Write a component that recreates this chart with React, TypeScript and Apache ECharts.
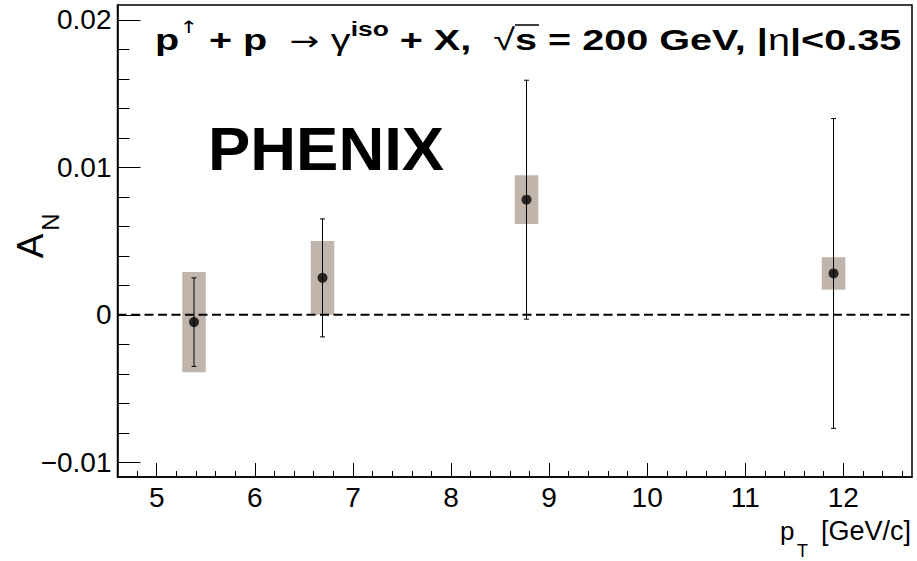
import React, { useEffect, useRef } from 'react';
import * as echarts from 'echarts';

// ---- data ----
const pT = [5.38, 6.69, 8.77, 11.9];
const AN = [-0.0005, 0.0025, 0.0078, 0.0028];
const statErr = [0.003, 0.004, 0.0081, 0.0105];
const systErr = [0.0034, 0.0025, 0.00165, 0.0011];

const xMin = 4.6;
const xMax = 12.7;
const yMin = -0.011;
const yMax = 0.021;

const xMajorTicks = [5, 6, 7, 8, 9, 10, 11, 12];
const xMinorTicks = [
  4.8, 5.2, 5.4, 5.6, 5.8, 6.2, 6.4, 6.6, 6.8, 7.2, 7.4, 7.6, 7.8, 8.2, 8.4, 8.6, 8.8,
  9.2, 9.4, 9.6, 9.8, 10.2, 10.4, 10.6, 10.8, 11.2, 11.4, 11.6, 11.8, 12.2, 12.4, 12.6,
];
const yMajorTicks = [-0.01, 0, 0.01, 0.02];
const yMinorTicks = [
  -0.008, -0.006, -0.004, -0.002, 0.002, 0.004, 0.006, 0.008, 0.012, 0.014, 0.016, 0.018,
];

const FONT = '"Liberation Sans", Arial, Helvetica, sans-serif';
const SYM = '"DejaVu Sans", "Liberation Sans", sans-serif';
const BOX_HALF = 0.12;
const BOX_COLOR = '#c1b5ab';

function fmtY(v: number): string {
  if (Math.abs(v) < 1e-9) return '0';
  const s = Math.abs(v).toFixed(2);
  return v < 0 ? '\u2212' + s : s;
}

export default function App() {
  const ref = useRef<HTMLDivElement>(null);

  useEffect(() => {
    if (!ref.current) return;
    const chart = echarts.init(ref.current, null, { renderer: 'svg' });

    const axisLineStyle = { color: '#000', width: 1.5 };
    const tickStyle = { color: '#000', width: 1 };

    const option: any = {
      animation: false,
      backgroundColor: '#fff',
      grid: {
        left: 117.5,
        top: 5,
        right: 5,
        bottom: 84,
        show: true,
        borderColor: '#000',
        borderWidth: 1.5,
        backgroundColor: 'transparent',
        containLabel: false,
        outerBoundsMode: 'none',
      },
      xAxis: [
        {
          type: 'value',
          min: xMin,
          max: xMax,
          position: 'bottom',
          axisLine: { show: true, onZero: false, lineStyle: axisLineStyle },
          axisTick: { show: true, inside: true, length: 14, customValues: xMajorTicks, lineStyle: tickStyle },
          axisLabel: {
            show: true,
            customValues: xMajorTicks,
            fontSize: 28,
            fontFamily: FONT,
            color: '#000',
            margin: 6,
            showMinLabel: true,
            showMaxLabel: true,
          },
          splitLine: { show: false },
        },
        {
          type: 'value',
          min: xMin,
          max: xMax,
          position: 'bottom',
          offset: 0,
          axisLine: { show: false, onZero: false },
          axisTick: { show: true, inside: true, length: 6, customValues: xMinorTicks, lineStyle: tickStyle },
          axisLabel: { show: false },
          splitLine: { show: false },
        },
      ],
      yAxis: [
        {
          type: 'value',
          min: yMin,
          max: yMax,
          position: 'left',
          axisLine: { show: true, onZero: false, lineStyle: axisLineStyle },
          axisTick: { show: true, inside: true, length: 23, customValues: yMajorTicks, lineStyle: tickStyle },
          axisLabel: {
            show: true,
            customValues: yMajorTicks,
            formatter: fmtY,
            fontSize: 28,
            fontFamily: FONT,
            color: '#000',
            margin: 6,
          },
          splitLine: { show: false },
        },
        {
          type: 'value',
          min: yMin,
          max: yMax,
          position: 'left',
          offset: 0,
          axisLine: { show: false, onZero: false },
          axisTick: { show: true, inside: true, length: 12, customValues: yMinorTicks, lineStyle: tickStyle },
          axisLabel: { show: false },
          splitLine: { show: false },
        },
      ],
      series: [
        {
          type: 'custom',
          name: 'syst',
          z: 1,
          xAxisIndex: 0,
          yAxisIndex: 0,
          data: pT.map((x, i) => [x, AN[i], systErr[i]]),
          encode: { x: 0, y: 1 },
          renderItem: (params: any, api: any) => {
            const x = api.value(0);
            const y = api.value(1);
            const s = api.value(2);
            const p1 = api.coord([x - BOX_HALF, y + s]);
            const p2 = api.coord([x + BOX_HALF, y - s]);
            return {
              type: 'rect',
              shape: { x: p1[0], y: p1[1], width: p2[0] - p1[0], height: p2[1] - p1[1] },
              style: { fill: BOX_COLOR },
            };
          },
        },
        {
          type: 'line',
          name: 'zero',
          z: 2,
          xAxisIndex: 0,
          yAxisIndex: 0,
          data: [
            [xMin, 0],
            [xMax, 0],
          ],
          symbol: 'none',
          lineStyle: { color: '#000', width: 2, type: [9, 4.5] },
          silent: true,
        },
        {
          type: 'custom',
          name: 'stat',
          z: 3,
          xAxisIndex: 0,
          yAxisIndex: 0,
          data: pT.map((x, i) => [x, AN[i], statErr[i]]),
          encode: { x: 0, y: 1 },
          renderItem: (params: any, api: any) => {
            const x = api.value(0);
            const y = api.value(1);
            const e = api.value(2);
            const top = api.coord([x, y + e]);
            const bot = api.coord([x, y - e]);
            const cap = 2.5;
            const st = { stroke: '#000', lineWidth: 1 };
            return {
              type: 'group',
              children: [
                { type: 'line', shape: { x1: top[0], y1: top[1], x2: bot[0], y2: bot[1] }, style: st },
                { type: 'line', shape: { x1: top[0] - cap, y1: top[1], x2: top[0] + cap, y2: top[1] }, style: st },
                { type: 'line', shape: { x1: bot[0] - cap, y1: bot[1], x2: bot[0] + cap, y2: bot[1] }, style: st },
              ],
            };
          },
        },
        {
          type: 'scatter',
          name: 'A_N',
          z: 4,
          xAxisIndex: 0,
          yAxisIndex: 0,
          data: pT.map((x, i) => [x, AN[i]]),
          symbol: 'circle',
          symbolSize: 10,
          itemStyle: { color: '#000' },
        },
      ],
      graphic: [
        {
          type: 'text',
          x: 155,
          y: 19,
          scaleX: 1.32,
          style: {
            text:
              '{b|p}{up|\u2191}{b| + p }{ar| \u2192 }{s|\u03b3}{bs|iso}{b| + X,  }{s|\u221a}{b|s = 200 GeV, |}{s|\u03b7}{b||<0.35}',
            align: 'left',
            verticalAlign: 'top',
            rich: {
              b: { fontFamily: FONT, fontWeight: 'bold', fontSize: 30, fill: '#000', lineHeight: 35, verticalAlign: 'bottom' },
              s: { fontFamily: FONT, fontWeight: 'normal', fontSize: 30, fill: '#000', lineHeight: 35, verticalAlign: 'bottom' },
              ar: { fontFamily: SYM, fontWeight: 'normal', fontSize: 27, fill: '#000', lineHeight: 35, verticalAlign: 'bottom' },
              up: { fontFamily: SYM, fontWeight: 'normal', fontSize: 17, fill: '#000', lineHeight: 20, verticalAlign: 'top' },
              bs: { fontFamily: FONT, fontWeight: 'bold', fontSize: 20, fill: '#000', lineHeight: 20, verticalAlign: 'top' },
            },
          },
        },
        {
          type: 'line',
          shape: { x1: 515, y1: 25, x2: 539, y2: 25 },
          style: { stroke: '#000', lineWidth: 1.5 },
        },
        {
          type: 'text',
          x: 208,
          y: 149,
          scaleX: 1.04,
          style: {
            text: 'PHENIX',
            fontFamily: FONT,
            fontWeight: 'bold',
            fontSize: 61,
            fill: '#000',
            align: 'left',
            verticalAlign: 'middle',
          },
        },
        {
          type: 'text',
          x: 30,
          y: 246,
          rotation: Math.PI / 2,
          style: { text: 'A', fontFamily: FONT, fontSize: 37, fill: '#000', align: 'center', verticalAlign: 'middle' },
        },
        {
          type: 'text',
          x: 50,
          y: 222,
          rotation: Math.PI / 2,
          style: { text: 'N', fontFamily: FONT, fontSize: 24, fill: '#000', align: 'center', verticalAlign: 'middle' },
        },
        {
          type: 'text',
          x: 780,
          y: 531,
          style: { text: 'p', fontFamily: FONT, fontSize: 26, fill: '#000', align: 'left', verticalAlign: 'middle' },
        },
        {
          type: 'text',
          x: 797,
          y: 551,
          style: { text: 'T', fontFamily: FONT, fontSize: 18, fill: '#000', align: 'left', verticalAlign: 'middle' },
        },
        {
          type: 'text',
          x: 911,
          y: 531,
          style: { text: '[GeV/c]', fontFamily: FONT, fontSize: 27, fill: '#000', align: 'right', verticalAlign: 'middle' },
        },
      ],
    };

    chart.setOption(option);
    return () => chart.dispose();
  }, []);

  return <div ref={ref} style={{ width: 917, height: 561, position: 'absolute', left: 0, top: 0 }} />;
}
